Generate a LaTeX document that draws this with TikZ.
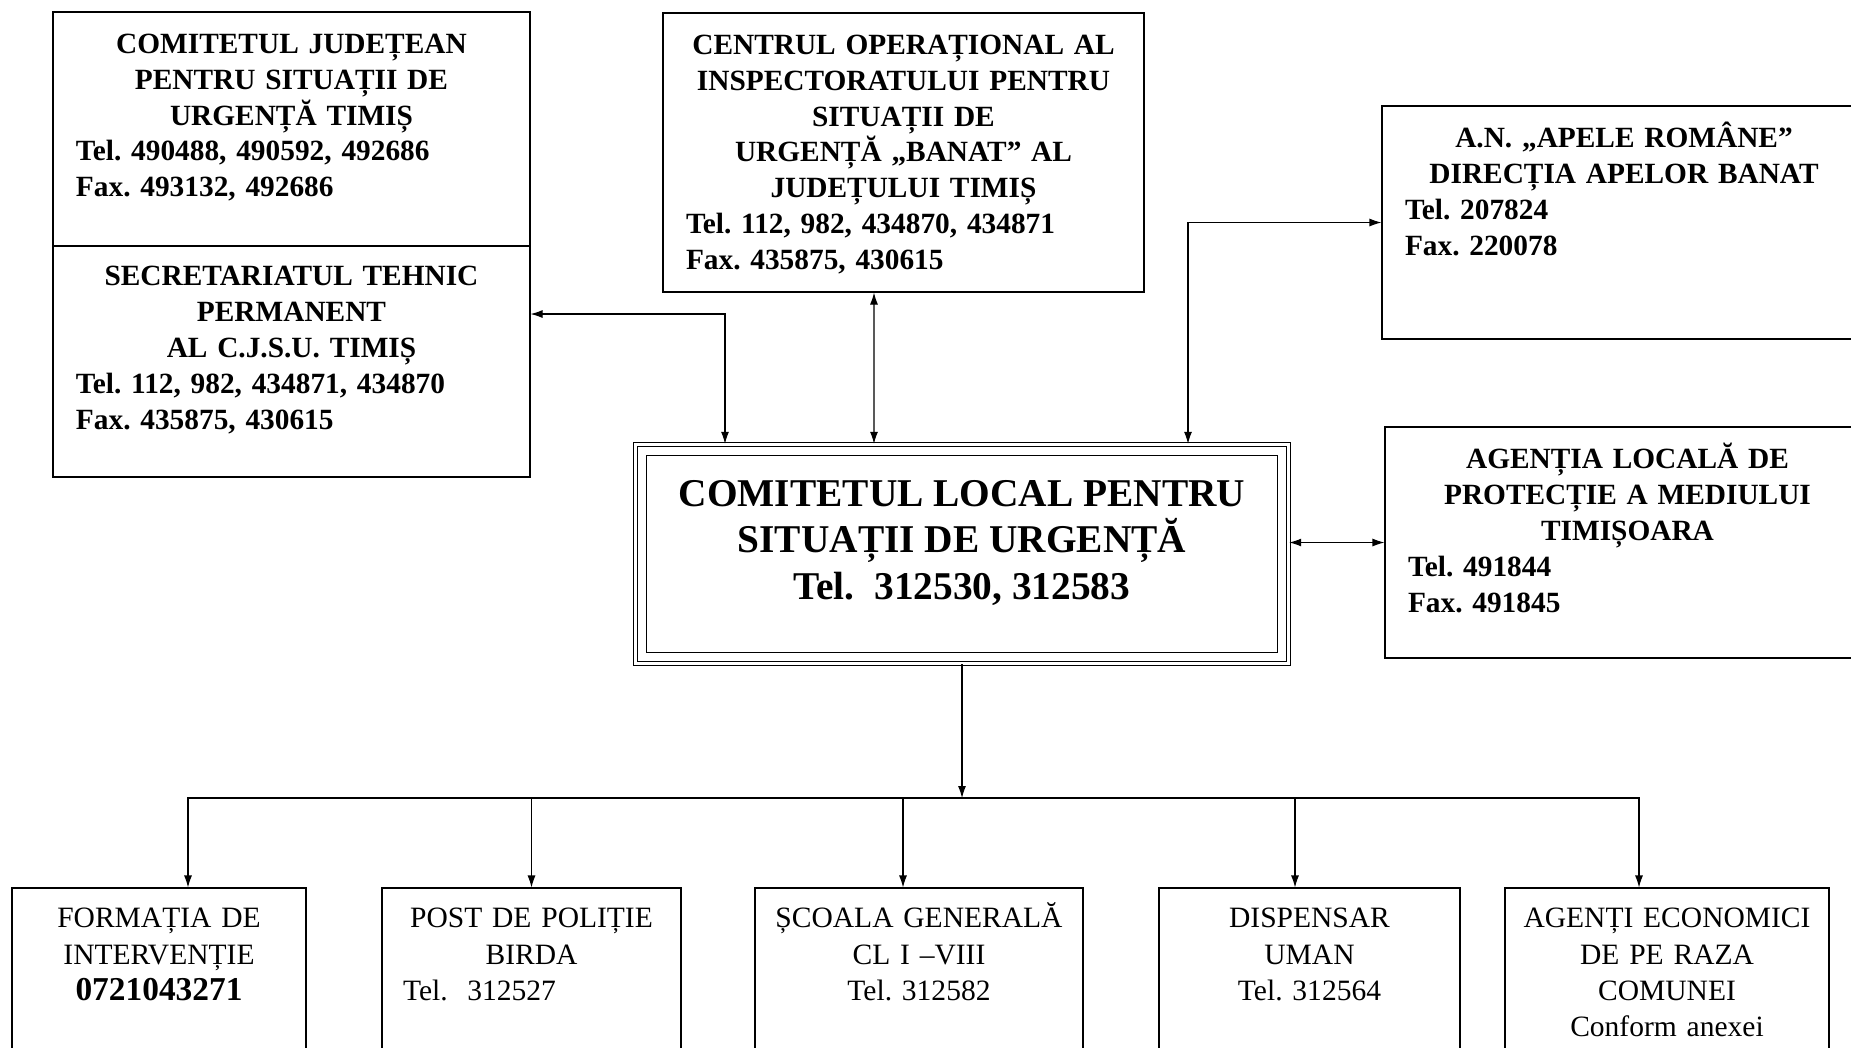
\documentclass[tikz,border=0pt]{standalone}
\usepackage{fontspec}
\setmainfont{Liberation Serif}
\usetikzlibrary{arrows.meta}
\newcommand{\telline}[1]{\makebox[\linewidth][l]{#1}}
\frenchspacing

\begin{document}
\begin{tikzpicture}[x=0.2mm,y=-0.2mm,>={Latex[length=2.4mm,width=1.6mm]}]
    \tikzstyle{box}=[draw,rectangle,line width=0.6pt,inner sep=0pt]
    \tikzstyle{hdr}=[anchor=north,inner sep=0pt,align=center,font=\bfseries\fontsize{16.7}{20.4}\selectfont]
    \tikzstyle{low}=[anchor=north,inner sep=0pt,align=center,font=\fontsize{16.8}{20.7}\selectfont]
    \useasboundingbox (0,0) rectangle (1851,1047);
    \node[box,minimum width=95.4mm,minimum height=93mm] (cjsu) at (291.5,244.5) {};
    \node[box,minimum width=96.2mm,minimum height=55.8mm] (centru) at (903.5,152.5) {};
    \node[box,minimum width=96.8mm,minimum height=46.6mm] (apele) at (1624,222.5) {};
    \node[box,minimum width=97mm,minimum height=46.2mm] (agentia) at (1627.5,542.5) {};
    \node[box,double,line width=0.8pt,double distance=1.4pt,minimum width=130.6mm,minimum height=43.8mm] (central) at (962,554) {};
    \draw[line width=0.7pt] ([shift={(2.4mm,2.4mm)}]central.south west) rectangle ([shift={(-2.4mm,-2.4mm)}]central.north east);
    \node[box,minimum width=58.8mm,minimum height=36.4mm] (formatia) at (159,979) {};
    \node[box,minimum width=59.8mm,minimum height=36.4mm] (post) at (531.5,979) {};
    \node[box,minimum width=65.6mm,minimum height=36.4mm] (scoala) at (919,979) {};
    \node[box,minimum width=60.2mm,minimum height=36.4mm] (dispensar) at (1309.5,979) {};
    \node[box,minimum width=64.8mm,minimum height=36.4mm] (agenti) at (1667,979) {};

    \coordinate (div) at (cjsu.north |- 0,246);
    \draw[line width=0.6pt] (cjsu.west |- div) -- (cjsu.east |- div);

    \node[hdr,text width=86.2mm] (cjsutxt) at ([yshift=-3.3mm]cjsu.north)
      {\strut COMITETUL JUDEȚEAN\\PENTRU SITUAȚII DE\\URGENȚĂ TIMIȘ\\\telline{Tel. 490488, 490592, 492686}\\\telline{Fax. 493132, 492686}};
    \node[hdr,text width=86.2mm] (stptxt) at ([yshift=-2.9mm]div)
      {\strut SECRETARIATUL TEHNIC\\PERMANENT\\AL C.J.S.U. TIMIȘ\\\telline{Tel. 112, 982, 434871, 434870}\\\telline{Fax. 435875, 430615}};
    \node[hdr,text width=87mm] (centrutxt) at ([yshift=-3.3mm]centru.north)
      {\strut CENTRUL OPERAȚIONAL AL\\INSPECTORATULUI PENTRU\\SITUAȚII DE\\URGENȚĂ „BANAT” AL\\JUDEȚULUI TIMIȘ\\\telline{Tel. 112, 982, 434870, 434871}\\\telline{Fax. 435875, 430615}};
    \node[hdr,text width=87.6mm] (apeletxt) at ([yshift=-3.3mm]apele.north)
      {\strut A.N. „APELE ROMÂNE”\\DIRECȚIA APELOR BANAT\\\telline{Tel. 207824}\\\telline{Fax. 220078}};
    \node[hdr,text width=87.8mm] (agentiatxt) at ([yshift=-3.3mm]agentia.north)
      {\strut AGENȚIA LOCALĂ DE\\PROTECȚIE A MEDIULUI\\TIMIȘOARA\\\telline{Tel. 491844}\\\telline{Fax. 491845}};
    \node[align=center,inner sep=0pt,font=\bfseries\fontsize{22.4}{26.6}\selectfont] (centraltxt) at ([yshift=2.2mm]central.center)
      {COMITETUL LOCAL PENTRU\\SITUAȚII DE URGENȚĂ\\Tel.\ \ 312530, 312583};

    \node[low,text width=54mm] (formatiatxt) at ([yshift=-2.9mm]formatia.north)
      {\strut FORMAȚIA DE\\INTERVENȚIE\\{\bfseries\fontsize{19}{20.7}\selectfont 0721043271}};
    \node[low,text width=51.4mm] (posttxt) at ([yshift=-2.9mm]post.north)
      {\strut POST DE POLIȚIE\\BIRDA\\\telline{Tel.\ \ 312527}};
    \node[low,text width=63mm] (scoalatxt) at ([yshift=-2.9mm]scoala.north)
      {\strut ȘCOALA GENERALĂ\\CL I –VIII\\Tel. 312582};
    \node[low,text width=58mm] (dispensartxt) at ([yshift=-2.9mm]dispensar.north)
      {\strut DISPENSAR\\UMAN\\Tel. 312564};
    \node[low,text width=63mm] (agentitxt) at ([yshift=-2.9mm]agenti.north)
      {\strut AGENȚI ECONOMICI\\DE PE RAZA\\COMUNEI\\Conform anexei};

    \draw[<->,line width=0.6pt] ([yshift=-13.9mm]cjsu.east) -| ([xshift=-47.4mm]central.north);
    \draw[<->,line width=0.6pt] ([xshift=-5.9mm]centru.south) -- ([xshift=-17.6mm]central.north);
    \draw[<->,line width=0.6pt] ([xshift=45.2mm]central.north) |- (apele.west);
    \draw[<->,line width=0.6pt] (central.east |- agentia.west) -- (agentia.west);

    \coordinate (bus) at (central.south |- 0,798);
    \draw[->,line width=0.6pt] (central.south) -- (bus);
    \draw[->,line width=0.6pt] (bus) -| ([xshift=5.8mm]formatia.north);
    \draw[->,line width=0.6pt] (bus) -| (post.north);
    \draw[->,line width=0.6pt] (bus) -| ([xshift=-3.2mm]scoala.north);
    \draw[->,line width=0.6pt] (bus) -| ([xshift=-2.9mm]dispensar.north);
    \draw[->,line width=0.6pt] (bus) -| ([xshift=-5.6mm]agenti.north);
\end{tikzpicture}
\end{document}
